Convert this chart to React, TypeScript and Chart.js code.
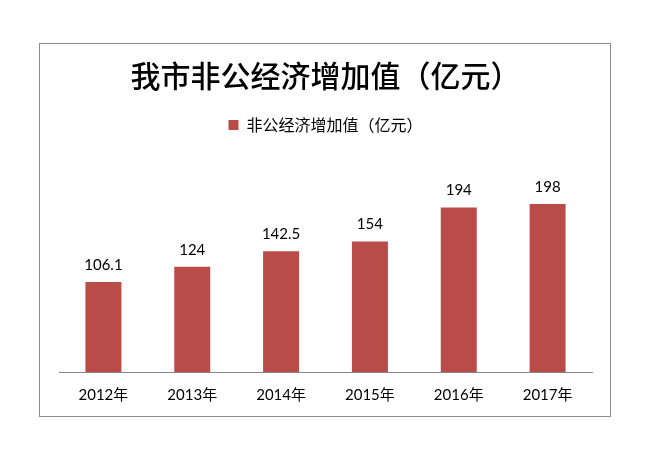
import React, { useEffect, useRef } from "react";
import { Chart, registerables } from "chart.js";

Chart.register(...registerables);

const categories = ["2012年", "2013年", "2014年", "2015年", "2016年", "2017年"];
const values = [106.1, 124, 142.5, 154, 194, 198];
const valueLabels = ["106.1", "124", "142.5", "154", "194", "198"];
const seriesName = "非公经济增加值（亿元）";
const chartTitle = "我市非公经济增加值（亿元）";

const BAR_COLOR = "#B94B49";
const LATIN = "Lato, 'Noto Sans CJK SC', sans-serif";
const CJK = "'Noto Sans CJK SC', sans-serif";

const frame = {
  id: "frame",
  beforeDraw(chart: any) {
    const ctx = chart.ctx;
    ctx.save();
    ctx.fillStyle = "#ffffff";
    ctx.fillRect(0, 0, chart.width, chart.height);
    ctx.strokeStyle = "#8c8c8c";
    ctx.lineWidth = 1;
    ctx.strokeRect(39.5, 43.5, 571, 373);
    ctx.restore();
  },
};

const dataLabels = {
  id: "dataLabels",
  afterDatasetsDraw(chart: any) {
    const ctx = chart.ctx;
    const meta = chart.getDatasetMeta(0);
    ctx.save();
    ctx.font = `15px ${LATIN}`;
    ctx.fillStyle = "#000000";
    ctx.textAlign = "center";
    ctx.textBaseline = "middle";
    meta.data.forEach((bar: any, i: number) => {
      ctx.fillText(valueLabels[i], bar.x, bar.y - 17);
    });
    ctx.restore();
  },
};

export default function App() {
  const ref = useRef<HTMLCanvasElement>(null);
  useEffect(() => {
    document.body.style.margin = "0";
    const chart = new Chart(ref.current!, {
      type: "bar",
      data: {
        labels: categories,
        datasets: [
          {
            label: seriesName,
            data: values,
            backgroundColor: BAR_COLOR,
            borderWidth: 0,
            barPercentage: 0.405,
            categoryPercentage: 1,
          },
        ],
      },
      options: {
        animation: false,
        responsive: false,
        layout: { padding: { top: 48, left: 59, right: 58, bottom: 42 } },
        plugins: {
          title: {
            display: true,
            text: chartTitle,
            color: "#000000",
            font: { family: CJK, size: 30, weight: "500" as any, lineHeight: 1.2 },
            padding: { top: 10, bottom: 13 },
          },
          legend: {
            display: true,
            position: "top",
            labels: {
              boxWidth: 10,
              boxHeight: 10,
              color: "#000000",
              font: { family: CJK, size: 16 },
              padding: 10,
            },
          },
          tooltip: { enabled: false },
        },
        scales: {
          x: {
            grid: { display: false, drawTicks: false },
            border: { display: true, color: "#878787", width: 1 },
            ticks: {
              color: "#000000",
              font: { family: LATIN, size: 15 },
              padding: 14,
            },
          },
          y: {
            display: false,
            min: 0,
            max: 270,
          },
        },
      },
      plugins: [frame, dataLabels],
    });
    return () => chart.destroy();
  }, []);
  return (
    <div style={{ width: 650, height: 460 }}>
      <canvas ref={ref} width={650} height={460} style={{ display: "block" }} />
    </div>
  );
}
